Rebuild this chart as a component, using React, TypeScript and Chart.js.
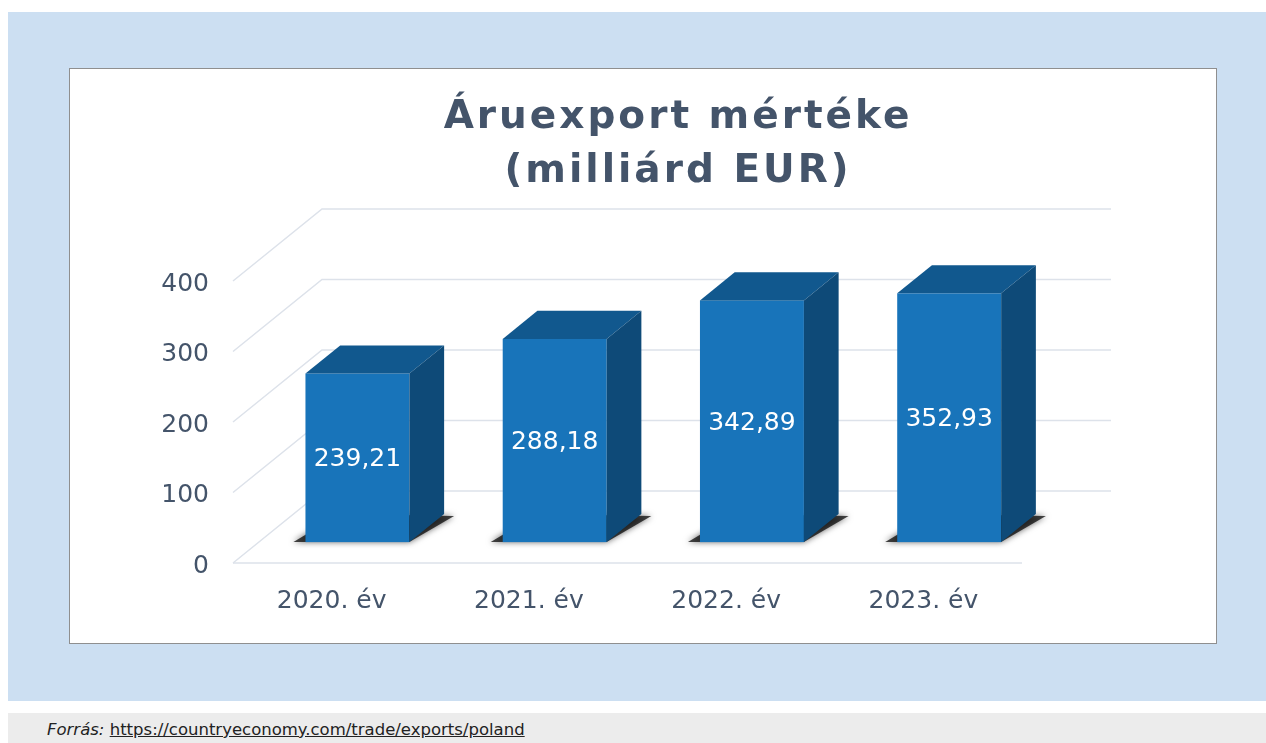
import React, { useEffect, useRef, useState } from "react";
import { Chart, registerables } from "chart.js";

Chart.register(...registerables);

// ---- data ----
const categories = ["2020. év", "2021. év", "2022. év", "2023. év"];
const values = [239.21, 288.18, 342.89, 352.93];
const valueLabels = ["239,21", "288,18", "342,89", "352,93"];
const yTickValues = [0, 100, 200, 300, 400];
const titleLines = ["Áruexport mértéke", "(milliárd EUR)"];
const sourceLabel = "Forrás:";
const sourceUrl = "https://countryeconomy.com/trade/exports/poland";

// ---- styling / geometry ----
const FONT = "'DejaVu Sans', Verdana, sans-serif";
const TEXT_COLOR = "#44546a";
const GRID_COLOR = "#dde2ea";
const FRONT = "#1874ba";
const TOP = "#11588e";
const SIDE = "#0e4a78";
const DX = 89; // floor depth, px
const DY = -72;
const BAR_FRONT = 0.29; // bar front plane (fraction of depth)
const BAR_DEPTH = 0.39; // bar depth (fraction of depth)

const threeD = {
  id: "threeD",
  beforeDatasetsDraw(chart: any) {
    const ctx = chart.ctx;
    const area = chart.chartArea;
    const ys = chart.scales.y;
    ctx.save();
    ctx.strokeStyle = GRID_COLOR;
    ctx.lineWidth = 1.5;
    yTickValues.forEach((v) => {
      const y = ys.getPixelForValue(v);
      ctx.beginPath();
      ctx.moveTo(area.left, y);
      ctx.lineTo(area.left + DX, y + DY);
      ctx.lineTo(area.right + DX, y + DY);
      ctx.stroke();
      if (v === 0) {
        ctx.beginPath();
        ctx.moveTo(area.left, y);
        ctx.lineTo(area.right, y);
        ctx.stroke();
      }
    });
    ctx.restore();
  },
  afterDatasetsDraw(chart: any) {
    const ctx = chart.ctx;
    const meta = chart.getDatasetMeta(0);
    meta.data.forEach((el: any, i: number) => {
      const w = el.width;
      const L = el.x - w / 2 + BAR_FRONT * DX;
      const R = el.x + w / 2 + BAR_FRONT * DX;
      const T = el.y + BAR_FRONT * DY;
      const B = el.base + BAR_FRONT * DY;
      const ddx = BAR_DEPTH * DX;
      const ddy = BAR_DEPTH * DY;
      // soft floor shadow
      ctx.save();
      ctx.shadowColor = "rgba(0,0,0,0.8)";
      ctx.shadowBlur = 6;
      ctx.fillStyle = "rgba(10,10,10,0.75)";
      ctx.beginPath();
      ctx.moveTo(L - 12, B);
      ctx.lineTo(R, B);
      ctx.lineTo(R + ddx + 10, B + ddy + 2);
      ctx.lineTo(L + ddx, B + ddy);
      ctx.closePath();
      ctx.fill();
      ctx.restore();

      ctx.save();
      ctx.fillStyle = FRONT;
      ctx.fillRect(L, T, R - L, B - T);
      ctx.fillStyle = TOP;
      ctx.beginPath();
      ctx.moveTo(L, T);
      ctx.lineTo(R, T);
      ctx.lineTo(R + ddx, T + ddy);
      ctx.lineTo(L + ddx, T + ddy);
      ctx.closePath();
      ctx.fill();
      ctx.fillStyle = SIDE;
      ctx.beginPath();
      ctx.moveTo(R, T);
      ctx.lineTo(R + ddx, T + ddy);
      ctx.lineTo(R + ddx, B + ddy);
      ctx.lineTo(R, B);
      ctx.closePath();
      ctx.fill();
      ctx.fillStyle = "#ffffff";
      ctx.font = "25px " + FONT;
      ctx.textAlign = "center";
      ctx.textBaseline = "middle";
      ctx.fillText(valueLabels[i], (L + R) / 2, (T + B) / 2 + 2);
      ctx.restore();
    });
  },
  afterDraw(chart: any) {
    const ctx = chart.ctx;
    ctx.save();
    ctx.fillStyle = TEXT_COLOR;
    ctx.font = "bold 39px " + FONT;
    try {
      ctx.letterSpacing = "3px";
    } catch (e) {}
    ctx.textAlign = "center";
    ctx.textBaseline = "alphabetic";
    ctx.fillText(titleLines[0], 608, 59);
    ctx.fillText(titleLines[1], 608, 113);
    ctx.restore();
  },
};

export default function App() {
  const ref = useRef<HTMLCanvasElement | null>(null);
  const [err, setErr] = useState("");
  useEffect(() => {
    document.documentElement.style.overflow = "hidden";
    document.body.style.marginRight = "0px";
    if (!ref.current) return;
    let chart: any = null;
    try {
      chart = new Chart(ref.current, {
        type: "bar",
        data: {
          labels: categories,
          datasets: [
            {
              data: values,
              backgroundColor: "rgba(0,0,0,0)",
              borderWidth: 0,
              barPercentage: 0.527,
              categoryPercentage: 1,
            },
          ],
        },
        options: {
          responsive: false,
          animation: false,
          devicePixelRatio: 1,
          layout: { padding: { top: 212, right: 194, bottom: 0, left: 0 } },
          plugins: {
            legend: { display: false },
            title: { display: false },
            tooltip: { enabled: false },
          },
          scales: {
            x: {
              grid: { display: false, drawTicks: false },
              border: { display: false },
              ticks: { color: TEXT_COLOR, font: { family: FONT, size: 25 }, padding: 23 },
              afterFit: (s: any) => {
                s.height = 80;
              },
            },
            y: {
              min: 0,
              max: 400,
              grid: { display: false, drawTicks: false },
              border: { display: false },
              ticks: {
                stepSize: 100,
                color: TEXT_COLOR,
                font: { family: FONT, size: 25 },
                padding: 24,
                labelOffset: 3,
              },
              afterFit: (s: any) => {
                s.width = 163;
              },
            },
          },
        },
        plugins: [threeD],
      });
    } catch (e: any) {
      setErr(String(e && e.stack ? e.stack : e));
    }
    return () => {
      if (chart) chart.destroy();
    };
  }, []);

  return (
    <div style={{ position: "relative", width: 1258, height: 735, fontFamily: FONT }}>
      <div
        style={{
          position: "absolute",
          left: 0,
          top: 4,
          width: 1258,
          height: 689,
          background: "#ccdff2",
        }}
      />
      <div
        style={{
          position: "absolute",
          left: 61,
          top: 60,
          width: 1146,
          height: 574,
          border: "1px solid #8f8f8f",
          background: "#ffffff",
        }}
      >
        <canvas ref={ref} width={1146} height={574} style={{ display: "block" }} />
      </div>
      <div
        style={{
          position: "absolute",
          left: 0,
          top: 705,
          width: 1258,
          height: 30,
          background: "#ececec",
          fontSize: 16.5,
          lineHeight: "34px",
          color: "#222",
          boxSizing: "border-box",
          paddingLeft: 39,
          whiteSpace: "nowrap",
        }}
      >
        <i>{sourceLabel}</i>{" "}
        <a href={sourceUrl} style={{ color: "#222", textDecoration: "underline" }}>
          {sourceUrl}
        </a>
      </div>
      {err ? (
        <pre style={{ position: "absolute", left: 0, top: 0, color: "red", fontSize: 12 }}>{err}</pre>
      ) : null}
    </div>
  );
}
